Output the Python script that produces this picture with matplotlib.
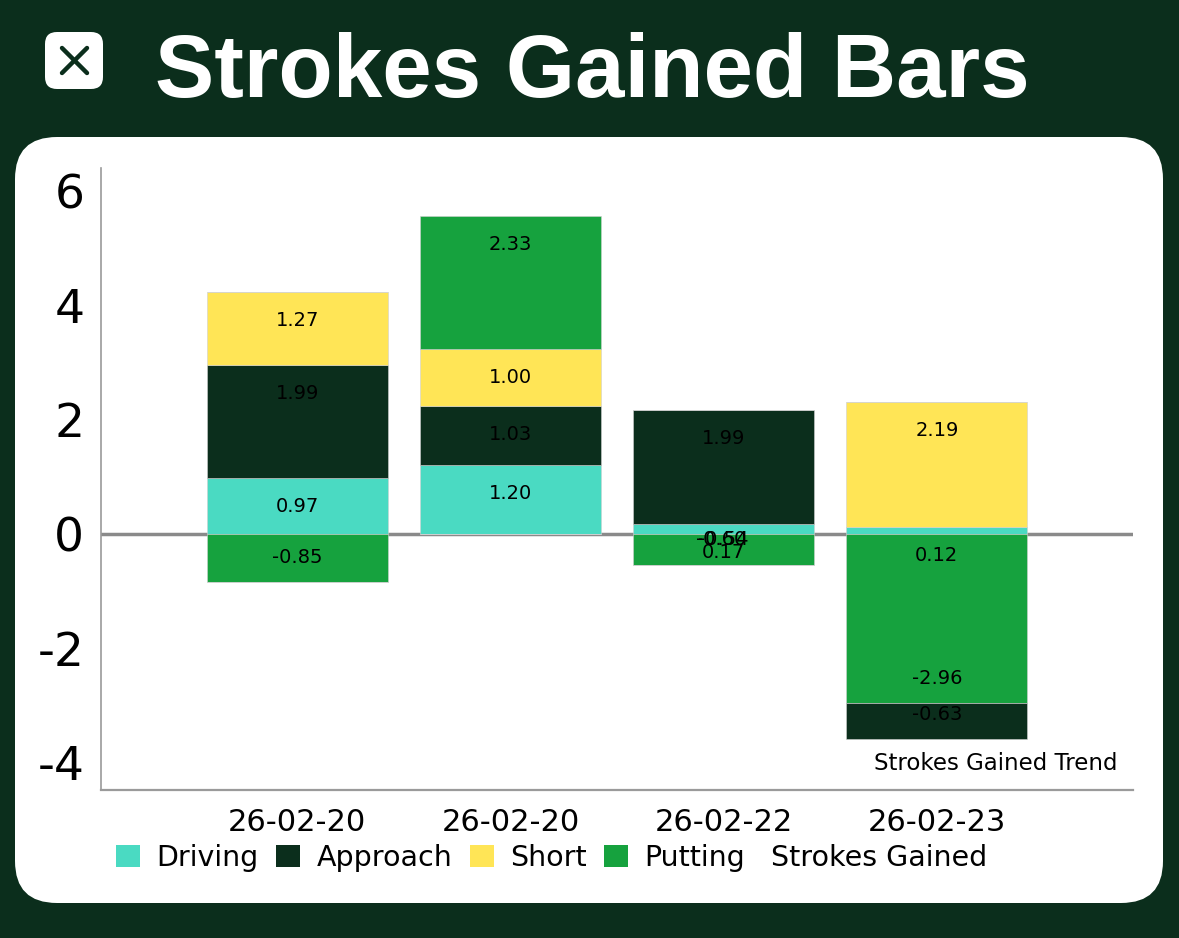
import matplotlib
matplotlib.use("Agg")
import matplotlib.pyplot as plt
from matplotlib.patches import FancyBboxPatch, Patch
import numpy as np

# data
dates = ["26-02-20", "26-02-20", "26-02-22", "26-02-23"]
driving = [0.97, 1.20, 0.17, 0.12]
approach = [1.99, 1.03, 1.99, -0.63]
short = [1.27, 1.00, 0.0, 2.19]
putting = [-0.85, 2.33, -0.54, -2.96]
stray_label = (2, "-0.60")  # overlapping label on the 26-02-22 bar

BG = "#0b2e1c"
colors = {"Driving": "#4adac2", "Approach": BG, "Short": "#ffe556", "Putting": "#16a23e"}
series = {"Driving": driving, "Approach": approach, "Short": short, "Putting": putting}
pos_order = ["Driving", "Approach", "Short", "Putting"]
neg_order = ["Driving", "Putting", "Short", "Approach"]

plt.rcParams["font.family"] = ["DejaVu Sans"]

W, H = 1179, 938
fig = plt.figure(figsize=(W / 100, H / 100), dpi=100, facecolor=BG)

# background layer in pixel coordinates
bg = fig.add_axes([0, 0, 1, 1])
bg.set_xlim(0, W)
bg.set_ylim(H, 0)
bg.axis("off")
bg.add_patch(FancyBboxPatch((15 + 42, 137 + 42), 1148 - 84, 766 - 84,
                            boxstyle="round,pad=42", fc="white", ec="none"))
bg.add_patch(FancyBboxPatch((45 + 12, 32 + 12), 58 - 24, 57 - 24,
                            boxstyle="round,pad=12", fc="white", ec="none"))
bg.plot([62, 87], [48, 73], color=BG, lw=3.2, solid_capstyle="round")
bg.plot([62, 87], [73, 48], color=BG, lw=3.2, solid_capstyle="round")
bg.text(155, 97, "Strokes Gained Bars", color="white", fontsize=64,
        fontweight="bold", va="baseline", ha="left", family="Liberation Sans")

# chart
ax = fig.add_axes([101 / W, (H - 790) / H, 1032 / W, 622 / H])
ax.set_facecolor("none")
x = np.arange(len(dates))
width = 0.85

ax.axhline(0, color="#8a8a8a", lw=2.5, zorder=1)

pos_base = np.zeros(len(dates))
neg_base = np.zeros(len(dates))
for name in pos_order:
    vals = np.array(series[name])
    v = np.where(vals > 0, vals, 0)
    ax.bar(x, v, width, bottom=pos_base, color=colors[name],
           edgecolor="#d0d0d0", linewidth=0.4, zorder=2)
    for i in range(len(dates)):
        if vals[i] > 0:
            ax.annotate(f"{vals[i]:.2f}", (x[i], pos_base[i] + v[i]), xytext=(0, -20.5),
                        textcoords="offset points", ha="center", va="center",
                        fontsize=14, color="black", zorder=4)
    pos_base += v

for name in neg_order:
    vals = np.array(series[name])
    v = np.where(vals < 0, vals, 0)
    ax.bar(x, v, width, bottom=neg_base, color=colors[name],
           edgecolor="#d0d0d0", linewidth=0.4, zorder=2)
    for i in range(len(dates)):
        if vals[i] < 0:
            ax.annotate(f"{vals[i]:.2f}", (x[i], neg_base[i] + v[i]), xytext=(0, 18),
                        textcoords="offset points", ha="center", va="center",
                        fontsize=14, color="black", zorder=4)
    neg_base += v

si, stxt = stray_label
ax.annotate(stxt, (x[si], neg_base[si]), xytext=(-2, 18), textcoords="offset points",
            ha="center", va="center", fontsize=14, color="black", zorder=4)

ax.set_xlim(-0.92, len(dates) - 1 + 0.92)
ax.set_ylim(-4.48, 6.4)
ax.set_yticks([-4, -2, 0, 2, 4, 6])
ax.set_yticklabels(["-4", "-2", "0", "2", "4", "6"])
ax.set_xticks(x)
ax.set_xticklabels(dates)
ax.tick_params(axis="y", length=0, pad=12, labelsize=34)
ax.tick_params(axis="x", length=0, pad=13, labelsize=22)
for s in ["top", "right"]:
    ax.spines[s].set_visible(False)
ax.spines["left"].set_color("#9a9a9a")
ax.spines["left"].set_linewidth(1.2)
ax.spines["bottom"].set_color("#9a9a9a")
ax.spines["bottom"].set_linewidth(1.6)

ax.text(0.985, 0.043, "Strokes Gained Trend", transform=ax.transAxes,
        ha="right", va="center", fontsize=16.5)

handles = [Patch(facecolor=colors[n], edgecolor="none") for n in pos_order]
fig.legend(handles=handles, labels=pos_order, loc="center left",
           bbox_to_anchor=(116 / W, (H - 858) / H), ncol=4, frameon=False,
           fontsize=20.5, borderpad=0, borderaxespad=0, handlelength=0.85,
           handleheight=0.85, handletextpad=0.58, columnspacing=0.6)
fig.text(771 / W, (H - 858) / H, "Strokes Gained", fontsize=20.5, va="center", ha="left")

fig.savefig("out.png", dpi=100, facecolor=BG)
